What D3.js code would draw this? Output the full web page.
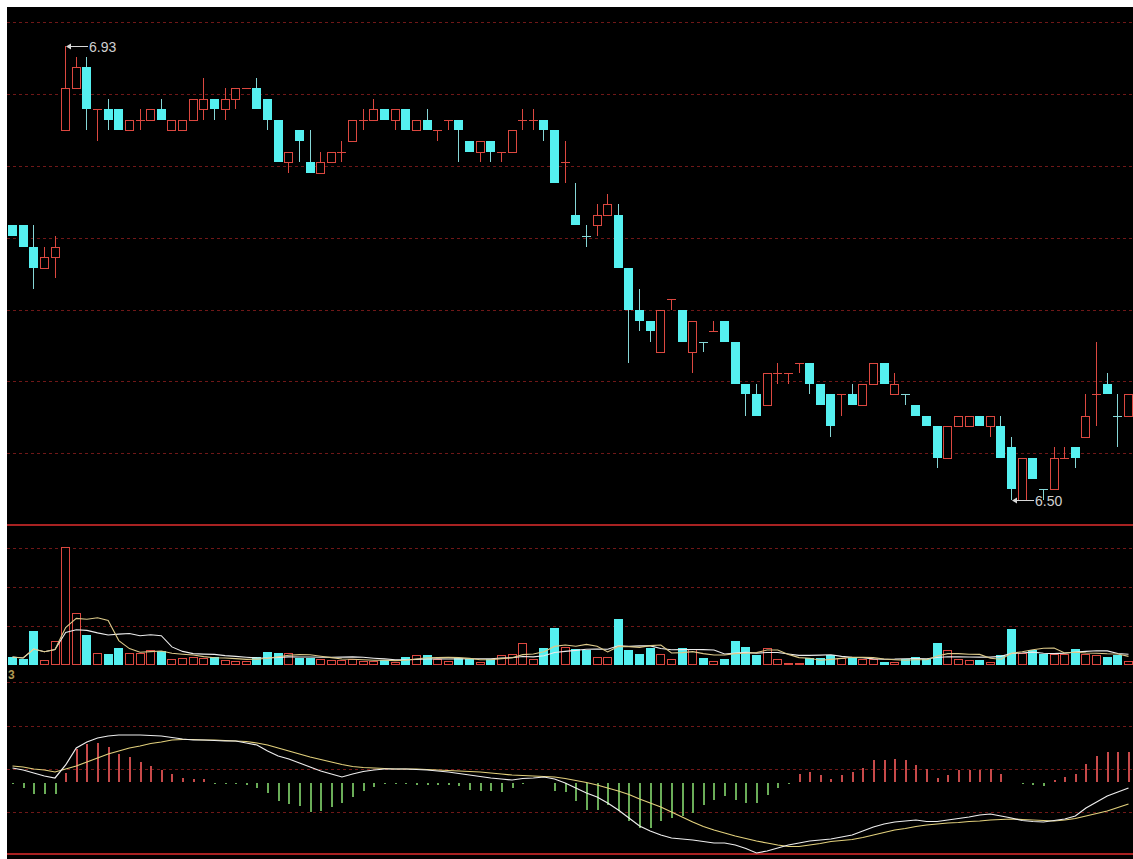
<!DOCTYPE html>
<html><head><meta charset="utf-8">
<script src="https://cdn.jsdelivr.net/npm/d3@7"></script>
<style>html,body{margin:0;padding:0;background:#fff;}svg{display:block;}</style>
</head><body><svg id="c" width="1133" height="859"></svg>
<script>
// ---- daily OHLC (price) ----
const opens  = [6.76,6.76,6.74,6.72,6.73,6.85,6.89,6.91,6.87,6.87,6.87,6.85,6.86,6.86,6.87,6.85,6.85,6.86,6.87,6.88,
6.87,6.88,6.89,6.89,6.88,6.86,6.82,6.85,6.82,6.81,6.82,6.83,6.84,6.86,6.86,6.87,6.86,6.87,6.85,6.86,
6.85,6.86,6.86,6.84,6.83,6.84,6.83,6.83,6.86,6.86,6.86,6.85,6.82,6.77,6.75,6.76,6.77,6.77,6.72,6.68,
6.67,6.64,6.69,6.68,6.64,6.65,6.66,6.67,6.65,6.61,6.60,6.59,6.62,6.62,6.63,6.63,6.61,6.60,6.60,6.60,
6.59,6.61,6.63,6.60,6.60,6.59,6.58,6.57,6.54,6.57,6.57,6.58,6.57,6.57,6.55,6.50,6.54,6.51,6.51,6.54,
6.55,6.56,6.60,6.61,6.58,6.58];
const closes = [6.75,6.74,6.72,6.73,6.74,6.89,6.91,6.87,6.87,6.86,6.85,6.86,6.86,6.87,6.86,6.86,6.86,6.88,6.88,6.87,
6.88,6.89,6.89,6.87,6.86,6.82,6.83,6.84,6.81,6.82,6.83,6.83,6.86,6.86,6.87,6.86,6.87,6.85,6.86,6.85,
6.85,6.86,6.85,6.83,6.84,6.83,6.83,6.85,6.86,6.86,6.85,6.80,6.82,6.76,6.75,6.77,6.78,6.72,6.68,6.67,
6.66,6.68,6.69,6.65,6.67,6.65,6.66,6.65,6.61,6.60,6.58,6.62,6.62,6.62,6.63,6.61,6.59,6.57,6.60,6.59,
6.61,6.63,6.61,6.61,6.60,6.58,6.57,6.54,6.57,6.58,6.58,6.57,6.58,6.54,6.51,6.54,6.52,6.51,6.54,6.54,
6.54,6.58,6.60,6.60,6.58,6.60];
const highs  = [6.76,6.76,6.76,6.74,6.75,6.93,6.92,6.92,6.87,6.88,6.87,6.86,6.87,6.87,6.88,6.86,6.86,6.88,6.90,6.88,
6.89,6.89,6.89,6.90,6.88,6.86,6.83,6.85,6.85,6.83,6.83,6.84,6.86,6.87,6.88,6.87,6.87,6.87,6.86,6.87,
6.85,6.86,6.86,6.84,6.84,6.84,6.83,6.85,6.87,6.87,6.86,6.85,6.84,6.80,6.76,6.78,6.79,6.78,6.72,6.70,
6.67,6.68,6.69,6.68,6.67,6.65,6.67,6.67,6.65,6.61,6.61,6.62,6.63,6.62,6.63,6.63,6.61,6.60,6.60,6.61,
6.61,6.63,6.63,6.62,6.60,6.59,6.58,6.57,6.57,6.58,6.58,6.58,6.58,6.58,6.56,6.54,6.54,6.51,6.55,6.55,
6.55,6.60,6.65,6.62,6.60,6.60];
const lows   = [6.75,6.74,6.70,6.72,6.71,6.85,6.89,6.85,6.84,6.85,6.85,6.85,6.85,6.86,6.86,6.85,6.85,6.86,6.86,6.86,
6.86,6.87,6.89,6.87,6.85,6.82,6.81,6.82,6.81,6.81,6.82,6.82,6.84,6.85,6.86,6.86,6.85,6.85,6.85,6.85,
6.84,6.85,6.82,6.83,6.82,6.82,6.82,6.83,6.85,6.85,6.84,6.80,6.80,6.76,6.74,6.75,6.77,6.72,6.63,6.66,
6.65,6.64,6.68,6.65,6.62,6.64,6.66,6.65,6.61,6.58,6.58,6.59,6.61,6.61,6.62,6.60,6.59,6.56,6.58,6.59,
6.59,6.61,6.61,6.60,6.59,6.58,6.57,6.53,6.54,6.57,6.57,6.57,6.56,6.54,6.50,6.50,6.52,6.50,6.51,6.54,
6.53,6.56,6.57,6.60,6.55,6.58];
// ---- volume (hands) ----
const volumes = [2000,1500,8500,1250,6000,29500,13000,7500,3000,2750,4250,3000,3000,3750,3500,1500,1750,2000,1750,2000,
1250,1000,1000,2000,3250,3000,3000,1750,1750,1500,1250,1250,1500,1000,1000,1250,750,2000,2500,2500,
1500,1000,1750,1500,750,1500,2500,2750,5500,1500,4250,9250,4500,4000,3750,2000,2000,11500,3750,2750,
4250,2750,1500,4250,4000,1750,1000,1500,6000,4500,2500,4250,1500,500,500,1750,1750,2500,1750,2000,
1500,1500,750,750,1500,2000,1500,5500,3750,1500,1250,1250,750,2500,9000,3000,3750,2750,2750,2750,
4000,2750,2500,2000,2500,1000];
// ---- MACD (x 0.001) ----
const dif = [13.5,11.5,8.5,5.5,3.5,16.5,33.5,39.5,43.5,45.5,46.5,46.5,46.5,46,45.5,44,42.5,41.5,41.5,41,
40.5,40.5,38.5,36.5,30.5,25.5,22.5,18.5,14.5,10.5,7.5,4.5,7.5,10,11.5,12.5,12.5,12.5,12,11.5,
10.5,9.5,8,6.5,5,3.5,2.5,1.5,3,3.5,4.5,2.5,-1.5,-6.5,-11.5,-15.5,-21.5,-28.5,-36.5,-44.5,
-49.5,-53.5,-56.5,-57.5,-58.5,-60,-61.5,-61.5,-63.5,-67,-71.5,-69.5,-66.5,-63.5,-61.5,-59.5,-58.5,-57.5,-55.5,-53.5,
-49.5,-45.5,-42.5,-40.5,-39.5,-38.5,-40,-40,-38.5,-37,-35.5,-33.5,-32.5,-34.5,-36.5,-39,-40,-40.5,-39,-37.5,
-34.5,-26.5,-20.5,-14.5,-10.5,-6.5];
const dea = [15.5,14.5,12.5,11.5,9.5,12.5,15.5,19.5,23.5,27.5,30.5,33.5,35.5,38,39.5,41.5,42,42,41.5,41.5,
41,40.5,40,38.5,36.5,33.5,30.5,27.5,24.5,22,19.5,17,15,14,13.5,13,12.5,12.5,12.5,12,
11.5,11,10.5,10,9.5,8.5,7.5,6.5,6,5.5,5,4.5,3,1,-1,-3.5,-6.5,-9.5,-13,-17.5,
-21.5,-25.5,-30.5,-35.5,-40.5,-45,-48.5,-51.5,-54.5,-57,-59.5,-61.5,-63.5,-65,-65,-63.5,-62,-60,-59,-58,
-56,-53.5,-51,-48.5,-47,-45,-43.5,-42.5,-41.5,-41,-40,-39.5,-38.5,-38,-37.5,-38,-38.5,-39,-39.5,-38.5,
-37,-34.5,-32,-29.5,-26,-22.5];
const macdHist = [-1,-5,-11,-11,-11,9,33,38,39,35,28,25,20,16,12,8,4,3,3,-1,
-1,-1,-2,-5,-10,-18,-22,-24,-29,-28,-25,-20,-14,-8,-4,-1,-1,-1,-2,-2,
-2,-2,-3,-7,-8,-8,-9,-5,-1,0,0,-8,-9,-18,-27,-27,-23,-28,-38,-45,
-45,-38,-35,-33,-30,-23,-17,-13,-17,-20,-20,-12,-5,-1,8,10,7,3,7,10,
14,22,22,23,22,17,13,4,7,12,12,12,13,8,0,-1,-2,-3,2,5,
8,18,26,30,30,30];

const N = opens.length;
const svg = d3.select("#c");
const RED = "#dc4840", CYAN = "#55f0f0", CYANW = "#86d6d6";
const GRID = "#701818";

svg.append("rect").attr("x",0).attr("y",0).attr("width",1133).attr("height",859).attr("fill","#fff");
svg.append("rect").attr("x",7).attr("y",7).attr("width",1126).attr("height",852).attr("fill","#000");

const x = d3.scaleLinear().domain([0, N-1]).range([12, 1128]);
const y = d3.scaleLinear().domain([6.50, 6.93]).range([500, 46]);
const vy = d3.scaleLinear().domain([0, 29500]).range([665, 547]);
const my = d3.scaleLinear().domain([-72.5, 99.5]).range([854, 682]);

// grid
const g = svg.append("g").attr("shape-rendering","crispEdges");
const mainGrid = d3.range(1,8).map(k => 525 - k*71.8);
const volGrid = [548, 587, 626];
const macdGrid = [682, 725.5, 769, 812];
[...mainGrid, ...volGrid, ...macdGrid].forEach(yy => {
  g.append("line").attr("x1",7).attr("x2",1133).attr("y1",Math.round(yy)+0.5).attr("y2",Math.round(yy)+0.5)
   .attr("stroke",GRID).attr("stroke-dasharray","3,3");
});
[525, 854].forEach(yy => {
  g.append("line").attr("x1",7).attr("x2",1133).attr("y1",yy).attr("y2",yy)
   .attr("stroke","#a82222").attr("stroke-width",1.6);
});

function dir(i){
  if (closes[i] > opens[i] + 1e-9) return 1;
  if (closes[i] < opens[i] - 1e-9) return -1;
  return (i === 0 || closes[i] >= closes[i-1] - 1e-9) ? 1 : -1;
}
// hollow box drawn as red outer rect + black inner rect (crisp 1px outline)
function hollow(sel, left, top, w, h){
  sel.append("rect").attr("x",left).attr("y",top).attr("width",w).attr("height",h).attr("fill",RED);
  if (w > 2 && h > 2)
    sel.append("rect").attr("x",left+1).attr("y",top+1).attr("width",w-2).attr("height",h-2).attr("fill","#000");
}

// candles
const cg = svg.append("g").attr("shape-rendering","crispEdges");
for (let i=0;i<N;i++){
  const cx = Math.round(x(i));
  const d = dir(i);
  const yTop = Math.round(y(Math.max(opens[i],closes[i])));
  const yBot = Math.round(y(Math.min(opens[i],closes[i])));
  const yH = Math.round(y(highs[i])), yL = Math.round(y(lows[i]));
  if (d > 0){
    if (yH < yTop) cg.append("rect").attr("x",cx).attr("y",yH).attr("width",1).attr("height",yTop-yH).attr("fill",RED);
    if (yL > yBot) cg.append("rect").attr("x",cx).attr("y",yBot).attr("width",1).attr("height",yL-yBot).attr("fill",RED);
    if (yBot - yTop < 2){
      cg.append("rect").attr("x",cx-4).attr("y",yTop).attr("width",9).attr("height",1).attr("fill",RED);
    } else {
      hollow(cg, cx-4, yTop, 9, yBot-yTop+1);
    }
  } else {
    if (yL > yH) cg.append("rect").attr("x",cx).attr("y",yH).attr("width",1).attr("height",yL-yH).attr("fill",CYANW);
    if (yBot - yTop < 2){
      cg.append("rect").attr("x",cx-4).attr("y",yTop).attr("width",9).attr("height",1).attr("fill",CYANW);
    } else {
      cg.append("rect").attr("x",cx-4).attr("y",yTop).attr("width",9).attr("height",yBot-yTop).attr("fill",CYAN);
    }
  }
}

// high / low labels
const iMax = d3.maxIndex(highs), iMin = d3.minIndex(lows);
function marker(i, val, txt){
  const cx = Math.round(x(i)) + 1, yy = Math.round(y(val)) + 0.5;
  svg.append("line").attr("x1",cx+2).attr("x2",cx+22).attr("y1",yy).attr("y2",yy).attr("stroke","#d8d8d8");
  svg.append("path").attr("d",`M${cx},${yy} l5,-3 l0,6 z`).attr("fill","#d8d8d8");
  svg.append("text").attr("x",cx+23).attr("y",yy+5).attr("fill","#d0d0d0")
    .attr("font-family","Liberation Sans, Arial, sans-serif").attr("font-size",14).text(txt);
}
marker(iMax, highs[iMax], highs[iMax].toFixed(2));
marker(iMin, lows[iMin], lows[iMin].toFixed(2));

// volume bars
const vg = svg.append("g").attr("shape-rendering","crispEdges");
const base = Math.round(vy(0));
for (let i=0;i<N;i++){
  const cx = Math.round(x(i));
  const yv = Math.round(vy(volumes[i]));
  if (dir(i) > 0){
    hollow(vg, cx-4, yv, 9, Math.max(1, base-yv));
  } else {
    vg.append("rect").attr("x",cx-4).attr("y",yv).attr("width",9).attr("height",base-yv).attr("fill",CYAN);
  }
}
function ma(arr, n){
  return arr.map((v,i) => d3.mean(arr.slice(Math.max(0,i-n+1), i+1)));
}
const vma5 = ma(volumes,5), vma10 = ma(volumes,10);
const vline = d3.line().x((d,i)=>x(i)+0.5).y(d=>vy(d));
svg.append("path").attr("d",vline(vma10)).attr("fill","none").attr("stroke","#ececec").attr("stroke-width",1.1);
svg.append("path").attr("d",vline(vma5)).attr("fill","none").attr("stroke","#dcc98a").attr("stroke-width",1.1);

svg.append("text").attr("x",8).attr("y",679).attr("fill","#b09a55").attr("font-weight","bold")
  .attr("font-family","Liberation Sans, Arial, sans-serif").attr("font-size",12).text("3");

// MACD histogram
const hg = svg.append("g").attr("shape-rendering","crispEdges");
const zero = Math.round(my(0));
macdHist.forEach((v,i) => {
  if (v === 0) return;
  const cx = Math.round(x(i));
  const yv = Math.round(my(v));
  const top = Math.min(yv, zero), h = Math.max(1, Math.abs(yv - zero));
  hg.append("rect").attr("x",cx).attr("y", v>0 ? top : zero+1).attr("width",2).attr("height",h)
    .attr("fill", v>0 ? "#c84a4a" : "#6aad58");
});
const mline = d3.line().x((d,i)=>x(i)+0.5).y(d=>my(d));
svg.append("path").attr("d",mline(dea)).attr("fill","none").attr("stroke","#e2d07c").attr("stroke-width",1.2);
svg.append("path").attr("d",mline(dif)).attr("fill","none").attr("stroke","#ededed").attr("stroke-width",1.2);
</script></body></html>
